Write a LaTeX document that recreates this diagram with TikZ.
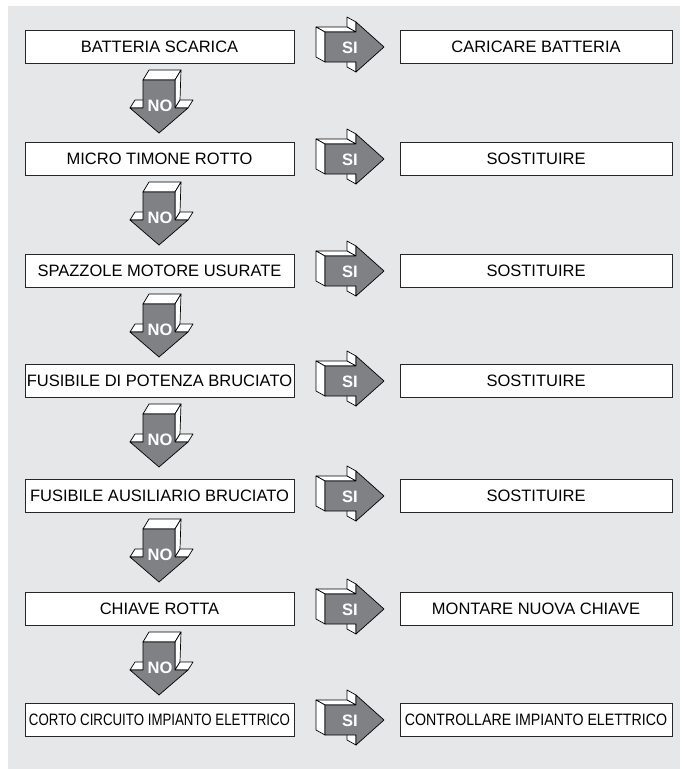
\documentclass[tikz,border=0pt]{standalone}
\usepackage{fontspec}
\setmainfont{Liberation Sans}
\usepackage{graphicx}
\definecolor{bg}{RGB}{230,231,232}
\definecolor{arr}{RGB}{128,129,132}
\tikzset{
  box/.style={draw=black!85, line width=0.9pt, fill=white, minimum height=33pt, inner sep=0pt,
    font=\fontsize{16.5}{18}\selectfont},
  lbox/.style={box, minimum width=269pt},
  rbox/.style={box, minimum width=272pt},
  face/.style={draw=black, line width=0.7pt, fill=white, line join=round},
  front/.style={draw=black, line width=0.7pt, fill=arr, line join=round},
  lbl/.style={text=white, font=\bfseries\fontsize{16.5}{17}\selectfont, inner sep=0pt}
}
\newcommand{\siarrow}[1]{%
  \begin{scope}[shift={(0,#1)}]
    \path[face] (356,15) -- (356,25) -- (347,20) -- (347,10) -- cycle;
    \path[face] (356,-15) -- (356,-25) -- (347,-30) -- (347,-20) -- cycle;
    \path[face] (325,-15) -- (356,-15) -- (347,-20) -- (316,-20) -- cycle;
    \path[face] (325,-15) -- (325,15) -- (316,10) -- (316,-20) -- cycle;
    \path[front] (325,-15) -- (356,-15) -- (356,-25) -- (384,0) -- (356,25) -- (356,15) -- (325,15) -- cycle;
    \node[lbl] at (350,1) {SI};
  \end{scope}}
\newcommand{\noarrow}[1]{%
  \begin{scope}[shift={(0,#1)}]
    \path[face] (143,33) -- (175,33) -- (181,23) -- (149,23) -- cycle;
    \path[face] (175,33) -- (175,61) -- (180,53) -- (181,23) -- cycle;
    \path[face] (175,61) -- (188,61) -- (193,53) -- (180,53) -- cycle;
    \path[face] (143,61) -- (130,61) -- (135,53) -- (148,53) -- cycle;
    \path[front] (143,33) -- (175,33) -- (175,61) -- (188,61) -- (159,86) -- (130,61) -- (143,61) -- cycle;
    \node[lbl] at (160,59) {NO};
  \end{scope}}
\begin{document}
\begin{tikzpicture}[x=1pt,y=-1pt]
  \useasboundingbox (0,0) rectangle (684,769);
  \fill[bg] (8,6) rectangle (680,769);
  % rows
  \node[lbox] (L1) at (159.5,47) {BATTERIA SCARICA};
  \node[rbox] (R1) at (536,47) {CARICARE BATTERIA};
  \node[lbox] (L2) at (159.5,159) {MICRO TIMONE ROTTO};
  \node[rbox] (R2) at (536,159) {SOSTITUIRE};
  \node[lbox] (L3) at (159.5,271) {SPAZZOLE MOTORE USURATE};
  \node[rbox] (R3) at (536,271) {SOSTITUIRE};
  \node[lbox] (L4) at (159.5,381) {FUSIBILE DI POTENZA BRUCIATO};
  \node[rbox] (R4) at (536,381) {SOSTITUIRE};
  \node[lbox] (L5) at (159.5,496) {FUSIBILE AUSILIARIO BRUCIATO};
  \node[rbox] (R5) at (536,496) {SOSTITUIRE};
  \node[lbox] (L6) at (159.5,609) {CHIAVE ROTTA};
  \node[rbox] (R6) at (536,609) {MONTARE NUOVA CHIAVE};
  \node[lbox] (L7) at (159.5,720) {\scalebox{0.805}[1]{CORTO CIRCUITO IMPIANTO ELETTRICO}};
  \node[rbox] (R7) at (536,720) {\scalebox{0.86}[1]{CONTROLLARE IMPIANTO ELETTRICO}};
  % SI arrows
  \siarrow{47}\siarrow{159}\siarrow{271}\siarrow{381}\siarrow{496}\siarrow{609}\siarrow{720}
  % NO arrows
  \noarrow{47}\noarrow{159}\noarrow{271}\noarrow{381}\noarrow{496}\noarrow{609}
\end{tikzpicture}
\end{document}
